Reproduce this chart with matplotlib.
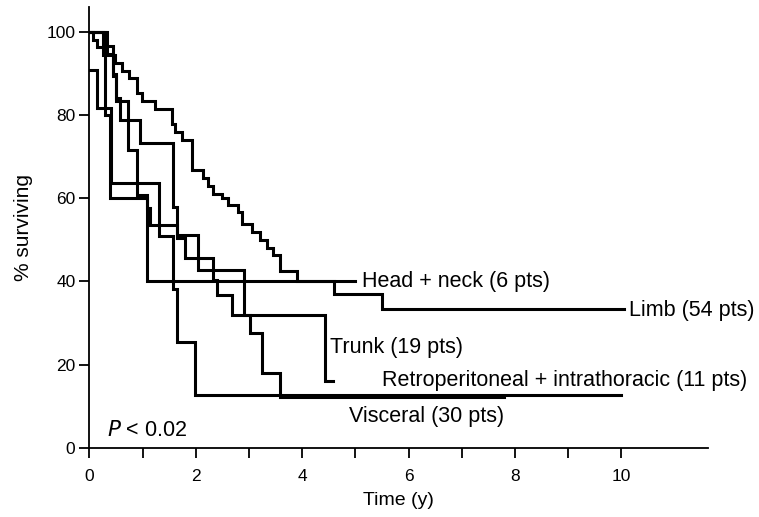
import matplotlib
matplotlib.use("Agg")
import matplotlib.pyplot as plt

plt.rcParams['font.family'] = ['Liberation Sans', 'DejaVu Sans']

# survival curves (time in years, % surviving)
limb_t = [0, 0.07, 0.15, 0.25, 0.48, 0.61, 0.74, 0.89, 0.99, 1.23, 1.55, 1.61, 1.74,
          1.92, 2.14, 2.23, 2.33, 2.49, 2.61, 2.8, 2.86, 3.05, 3.2, 3.33, 3.45, 3.58,
          3.9, 4.59, 5.5, 10.05]
limb_s = [100, 98.1, 96.3, 94.4, 92.6, 90.7, 88.9, 85.2, 83.3, 81.5, 77.8, 75.9, 74.1,
          66.7, 64.8, 63.0, 61.1, 60.0, 58.3, 56.8, 53.7, 51.9, 50.0, 48.1, 46.3, 42.6,
          40.0, 36.9, 33.3, 33.3]

head_t = [0, 0.30, 0.39, 1.08, 5.0]
head_s = [100, 80, 60, 40, 40]

retro_t = [0, 0.14, 0.41, 1.30, 1.57, 1.65, 1.99, 10.0]
retro_s = [90.9, 81.8, 63.6, 50.9, 38.2, 25.5, 12.7, 12.7]

trunk_t = [0, 0.33, 0.45, 0.50, 0.58, 0.95, 1.58, 1.64, 2.05, 2.90, 4.43, 4.58]
trunk_s = [100, 94.7, 89.5, 84.2, 78.9, 73.3, 57.9, 51.2, 42.8, 31.9, 16.0, 16.0]

visc_t = [0, 0.25, 0.45, 0.50, 0.73, 0.89, 1.08, 1.14, 1.64, 1.80, 2.33, 2.39, 2.68,
          3.02, 3.24, 3.58, 7.8]
visc_s = [100, 96.7, 90.0, 83.3, 71.7, 60.8, 57.7, 53.6, 50.5, 45.6, 40.3, 36.7, 31.9,
          27.6, 18.0, 12.3, 12.3]

curves = [(limb_t, limb_s), (head_t, head_s), (retro_t, retro_s),
          (trunk_t, trunk_s), (visc_t, visc_s)]

fig = plt.figure(figsize=(7.59, 5.17), dpi=100)
ax = fig.add_axes([0.1177, 0.134, 0.9324 - 0.1177, 0.9865 - 0.134])

for t, s in curves:
    ax.step(t, s, where='post', color='black', lw=2.2, solid_joinstyle='miter')

ax.set_xlim(0, 11.62)
ax.set_ylim(0, 106)
for side in ['top', 'right']:
    ax.spines[side].set_visible(False)
for side in ['left', 'bottom']:
    ax.spines[side].set_linewidth(1.3)

ax.set_xticks(range(11))
ax.set_xticklabels([str(i) if i % 2 == 0 else '' for i in range(11)])
ax.set_yticks([0, 20, 40, 60, 80, 100])
ax.tick_params(axis='x', length=7, width=1.3, labelsize=12.5, pad=8)
ax.tick_params(axis='y', length=7, width=1.3, labelsize=12.5, pad=3)

ax.set_xlabel('Time (y)', fontsize=14, labelpad=6)
ax.set_ylabel('% surviving', fontsize=15, labelpad=10)

fs = 15.5
ax.text(5.13, 40, 'Head + neck (6 pts)', fontsize=fs, va='center')
ax.text(10.14, 33.1, 'Limb (54 pts)', fontsize=fs, va='center')
ax.text(4.52, 24, 'Trunk (19 pts)', fontsize=fs, va='center')
ax.text(5.5, 16.1, 'Retroperitoneal + intrathoracic (11 pts)', fontsize=fs, va='center')
ax.text(4.88, 7.6, 'Visceral (30 pts)', fontsize=fs, va='center')
ax.text(0.34, 4.2, '$P$ < 0.02', fontsize=fs, va='center')

fig.savefig('out.png', dpi=100)
